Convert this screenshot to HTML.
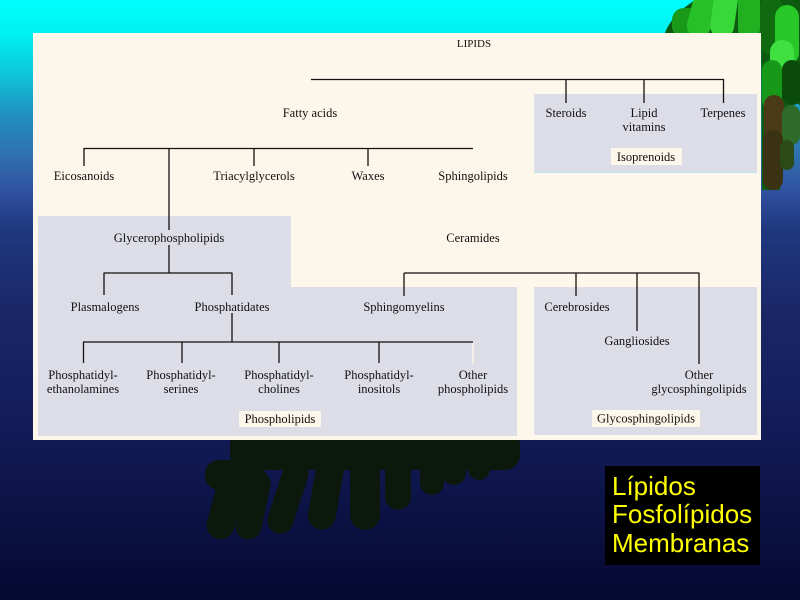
<!DOCTYPE html>
<html><head><meta charset="utf-8"><style>
html,body{margin:0;padding:0;width:800px;height:600px;overflow:hidden;background:#0a1040}
svg{display:block}
.t{font-family:"Liberation Serif",serif;font-size:12.5px;fill:#111;text-anchor:middle}
.y{font-family:"Liberation Sans",sans-serif;font-size:26px;fill:#ffff00}
</style></head><body>
<svg width="800" height="600" viewBox="0 0 800 600" xmlns="http://www.w3.org/2000/svg">
<defs>
<linearGradient id="bg" x1="0" y1="0" x2="0" y2="1">
<stop offset="0" stop-color="#00ffff"/>
<stop offset="0.06" stop-color="#00f0f0"/>
<stop offset="0.13" stop-color="#10c0d8"/>
<stop offset="0.19" stop-color="#2090c0"/>
<stop offset="0.26" stop-color="#3070b0"/>
<stop offset="0.32" stop-color="#3050a0"/>
<stop offset="0.38" stop-color="#203880"/>
<stop offset="0.51" stop-color="#1a2868"/>
<stop offset="0.64" stop-color="#152060"/>
<stop offset="0.77" stop-color="#101850"/>
<stop offset="0.89" stop-color="#0a1040"/>
<stop offset="1" stop-color="#050830"/>
</linearGradient>
</defs>
<rect x="0" y="0" width="800" height="600" fill="url(#bg)"/>

<!-- top-right plant -->
<g>
<path d="M665,33 C670,20 680,10 695,0 L800,0 L800,105 L790,100 L780,190 L762,190 L761,33 Z" fill="#0b5a10"/>
<rect x="672" y="8" width="28" height="30" rx="12" fill="#189a18"/>
<rect x="690" y="-10" width="24" height="48" rx="12" fill="#28c028" transform="rotate(15 702 14)"/>
<rect x="712" y="-12" width="24" height="50" rx="12" fill="#38d838" transform="rotate(8 724 13)"/>
<rect x="738" y="-10" width="22" height="50" rx="11" fill="#20b020"/>
<rect x="760" y="-5" width="22" height="60" rx="11" fill="#106a10"/>
<rect x="775" y="5" width="24" height="60" rx="12" fill="#28c828"/>
<rect x="770" y="40" width="24" height="55" rx="12" fill="#40e040"/>
<rect x="762" y="60" width="20" height="50" rx="10" fill="#189818"/>
<rect x="782" y="60" width="20" height="45" rx="10" fill="#0a4a0a"/>
<rect x="764" y="95" width="20" height="55" rx="10" fill="#4a3a18"/>
<rect x="782" y="105" width="18" height="40" rx="9" fill="#2e6a28"/>
<rect x="763" y="130" width="20" height="60" rx="10" fill="#3a3212"/>
<rect x="780" y="140" width="14" height="30" rx="7" fill="#2a4a18"/>
</g>

<!-- dark plant below panel -->
<g fill="#0c180c">
<rect x="230" y="430" width="290" height="40" rx="15"/>
<rect x="205" y="460" width="60" height="30" rx="14"/>
<rect x="212" y="470" width="28" height="70" rx="14" transform="rotate(15 226 505)"/>
<rect x="240" y="470" width="26" height="70" rx="13" transform="rotate(12 253 505)"/>
<rect x="275" y="460" width="26" height="75" rx="13" transform="rotate(18 288 497)"/>
<rect x="312" y="455" width="28" height="75" rx="14" transform="rotate(10 326 492)"/>
<rect x="350" y="450" width="30" height="80" rx="15"/>
<rect x="385" y="440" width="26" height="70" rx="13"/>
<rect x="420" y="440" width="24" height="55" rx="12"/>
<rect x="442" y="440" width="24" height="45" rx="12"/>
<rect x="468" y="438" width="22" height="42" rx="11"/>
<rect x="490" y="438" width="22" height="22" rx="11"/>
</g>

<!-- main panel -->
<rect x="33" y="33" width="728" height="407" fill="#fdf6ea"/>

<!-- gray boxes -->
<rect x="534" y="94" width="223" height="79" fill="#dcdde6"/>
<line x1="534" y1="172.5" x2="757" y2="172.5" stroke="#b8e8f0" stroke-width="1"/>
<polygon points="38,216 291,216 291,287 517,287 517,436 38,436" fill="#dcdde6"/>
<rect x="534" y="287" width="223" height="148" fill="#dcdde6"/>

<!-- label boxes -->
<rect x="611" y="148" width="71" height="17" fill="#fdf6ea"/>
<rect x="239" y="411" width="82" height="16" fill="#fdf6ea"/>
<rect x="592" y="410" width="108" height="17" fill="#fdf6ea"/>

<!-- connectors -->
<g stroke="#111" stroke-width="1.3" fill="none">
<line x1="311" y1="79.5" x2="724" y2="79.5"/>
<line x1="566" y1="79" x2="566" y2="103"/>
<line x1="644" y1="79" x2="644" y2="103"/>
<line x1="723.5" y1="79" x2="723.5" y2="103"/>

<line x1="83.5" y1="148.5" x2="473" y2="148.5"/>
<line x1="84" y1="148" x2="84" y2="166"/>
<line x1="169" y1="148" x2="169" y2="230"/>
<line x1="254" y1="148" x2="254" y2="166"/>
<line x1="368" y1="148" x2="368" y2="166"/>

<line x1="169" y1="245" x2="169" y2="273"/>
<line x1="103.5" y1="273" x2="232.5" y2="273"/>
<line x1="104" y1="273" x2="104" y2="295"/>
<line x1="232" y1="273" x2="232" y2="295"/>

<line x1="232" y1="313" x2="232" y2="342"/>
<line x1="83" y1="342" x2="473" y2="342"/>
<line x1="83.5" y1="342" x2="83.5" y2="363"/>
<line x1="182" y1="342" x2="182" y2="363"/>
<line x1="279" y1="342" x2="279" y2="363"/>
<line x1="379" y1="342" x2="379" y2="363"/>

<line x1="404" y1="273" x2="699.5" y2="273"/>
<line x1="404" y1="273" x2="404" y2="296"/>
<line x1="576" y1="273" x2="576" y2="296"/>
<line x1="637" y1="273" x2="637" y2="331"/>
<line x1="699" y1="273" x2="699" y2="364"/>
</g>
<line x1="473" y1="343" x2="473" y2="364" stroke="#fdf6ea" stroke-width="1.5"/>

<!-- labels -->
<text class="t" x="474" y="47" style="font-size:11px">LIPIDS</text>
<text class="t" x="310" y="117">Fatty acids</text>
<text class="t" x="566" y="117">Steroids</text>
<text class="t" x="644" y="117">Lipid</text>
<text class="t" x="644" y="131">vitamins</text>
<text class="t" x="723" y="117">Terpenes</text>
<text class="t" x="646" y="161">Isoprenoids</text>

<text class="t" x="84" y="180">Eicosanoids</text>
<text class="t" x="254" y="180">Triacylglycerols</text>
<text class="t" x="368" y="180">Waxes</text>
<text class="t" x="473" y="180">Sphingolipids</text>

<text class="t" x="169" y="242">Glycerophospholipids</text>
<text class="t" x="473" y="242">Ceramides</text>

<text class="t" x="105" y="311">Plasmalogens</text>
<text class="t" x="232" y="311">Phosphatidates</text>
<text class="t" x="404" y="311">Sphingomyelins</text>
<text class="t" x="577" y="311">Cerebrosides</text>
<text class="t" x="637" y="345">Gangliosides</text>
<text class="t" x="699" y="379">Other</text>
<text class="t" x="699" y="393">glycosphingolipids</text>

<text class="t" x="83" y="379">Phosphatidyl-</text>
<text class="t" x="83" y="393">ethanolamines</text>
<text class="t" x="181" y="379">Phosphatidyl-</text>
<text class="t" x="181" y="393">serines</text>
<text class="t" x="279" y="379">Phosphatidyl-</text>
<text class="t" x="279" y="393">cholines</text>
<text class="t" x="379" y="379">Phosphatidyl-</text>
<text class="t" x="379" y="393">inositols</text>
<text class="t" x="473" y="379">Other</text>
<text class="t" x="473" y="393">phospholipids</text>

<text class="t" x="280" y="423">Phospholipids</text>
<text class="t" x="646" y="422.5">Glycosphingolipids</text>

<!-- yellow text box -->
<rect x="605" y="466" width="155" height="99" fill="#000"/>
<text class="y" x="612" y="495">Lípidos</text>
<text class="y" x="612" y="523">Fosfolípidos</text>
<text class="y" x="612" y="552">Membranas</text>
</svg>
</body></html>
